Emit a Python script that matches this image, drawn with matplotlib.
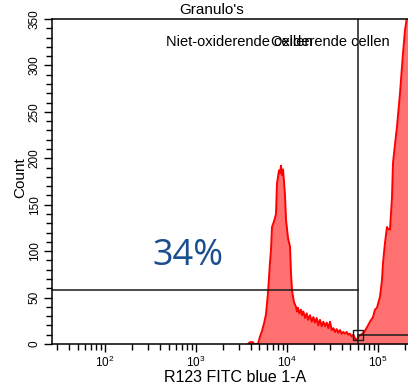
import numpy as np
import matplotlib
matplotlib.use("Agg")
import matplotlib.pyplot as plt
from matplotlib.ticker import LogLocator, MultipleLocator, NullFormatter

plt.rcParams['font.family'] = ['Liberation Sans', 'DejaVu Sans']
plt.rcParams['mathtext.default'] = 'regular'

# histogram of R123 FITC signal (log10 of intensity, events per channel)
fitc_log = [3.573, 3.595, 3.628, 3.639, 3.683, 3.705, 3.727, 3.749, 3.771, 3.793,
            3.815, 3.826, 3.837, 3.859, 3.881, 3.892, 3.914, 3.925, 3.936, 3.947,
            3.958, 3.969, 3.980, 3.991, 4.013, 4.035, 4.046, 4.057, 4.065, 4.079,
            4.101, 4.112, 4.123, 4.138, 4.156, 4.167, 4.182, 4.200, 4.219, 4.233,
            4.255, 4.274, 4.292, 4.310, 4.329, 4.347, 4.365, 4.384, 4.402, 4.420,
            4.439, 4.457, 4.475, 4.494, 4.512, 4.530, 4.549, 4.567, 4.585, 4.604,
            4.622, 4.640, 4.659, 4.677, 4.695, 4.714, 4.732, 4.750, 4.769, 4.787,
            4.816, 4.853, 4.882, 4.915, 4.948, 4.970, 4.992, 5.025, 5.047, 5.058,
            5.080, 5.102, 5.113, 5.135, 5.157, 5.168, 5.190, 5.212, 5.245, 5.278,
            5.300, 5.322, 5.344]
counts = [0, 2, 2, 0, 0, 8, 14, 22, 32, 55,
          88, 101, 126, 132, 140, 173, 187, 184, 192, 182,
          188, 175, 160, 134, 114, 105, 76, 58, 53, 45,
          40, 35, 39, 33, 37, 31, 35, 28, 33, 26,
          31, 24, 29, 23, 28, 20, 26, 19, 24, 19,
          23, 17, 24, 15, 17, 13, 16, 12, 15, 11,
          13, 11, 13, 10, 11, 8, 10, 6, 4, 8,
          10, 13, 18, 24, 29, 37, 39, 51, 69, 87,
          109, 126, 124, 123, 158, 195, 215, 234, 270, 313,
          338, 352, 360]

# gate: split point on the FITC axis and the two marker levels
gate_split = 6.0e4
gate_left_level = 58
gate_right_level = 10
gate_pct = "34%"

x = 10 ** np.array(fitc_log)
y = np.array(counts)

fig = plt.figure(figsize=(4.08, 3.88), dpi=100)
ax = fig.add_axes([52 / 408, 1 - 344 / 388, 1 - 52 / 408, 325 / 388])

ax.fill_between(x, y, 0, color='#ff7070', lw=0)
ax.plot(x, y, color='#ff0000', lw=1.4)

ax.set_xscale('log')
ax.set_xlim(10 ** 1.417, 10 ** 5.333)
ax.set_ylim(0, 350)

# gate lines
ax.axvline(gate_split, color='#1a1a1a', lw=1.1)
ax.plot([ax.get_xlim()[0], gate_split], [gate_left_level] * 2, color='#1a1a1a', lw=1.1)
ax.plot([gate_split, ax.get_xlim()[1]], [gate_right_level] * 2, color='#1a1a1a', lw=1.1)
ax.plot([gate_split], [gate_right_level], marker='s', ms=7, mfc='none', mec='#1a1a1a', mew=1.0)

ax.spines['right'].set_visible(False)
for s in ['left', 'top', 'bottom']:
    ax.spines[s].set_linewidth(1.1)

ax.xaxis.set_major_locator(LogLocator(base=10, numticks=10))
ax.xaxis.set_minor_locator(LogLocator(base=10, subs=np.arange(2, 10), numticks=20))
ax.xaxis.set_minor_formatter(NullFormatter())
ax.yaxis.set_major_locator(MultipleLocator(50))
ax.yaxis.set_minor_locator(MultipleLocator(10))

ax.tick_params(axis='both', which='major', length=6, width=1.0, labelsize=8.5, direction='out')
ax.tick_params(axis='both', which='minor', length=4.5, width=1.0, direction='out')
ax.tick_params(axis='x', pad=1.5)
ax.tick_params(axis='y', pad=2)
for lbl in ax.get_yticklabels():
    lbl.set_rotation(90)
    lbl.set_va('center')

fig.text(212 / 408, 1 - 10 / 388, "Granulo's", ha='center', va='center', fontsize=11)
fig.text(166 / 408, 1 - 42 / 388, "Niet-oxiderende cellen", ha='left', va='center', fontsize=10.5)
fig.text(271 / 408, 1 - 42 / 388, "Oxiderende cellen", ha='left', va='center', fontsize=10.5)
fig.text(152 / 408, 1 - 256 / 388, gate_pct, ha='left', va='center', fontsize=26,
         color='#1a4f8f', family=['Open Sans', 'DejaVu Sans'])

fig.text(20 / 408, 1 - 178 / 388, "Count", ha='center', va='center', rotation=90, fontsize=11)
fig.text(235 / 408, 1 - 378 / 388, "R123 FITC blue 1-A", ha='center', va='center', fontsize=11.5)

fig.savefig("out.png", dpi=100)
